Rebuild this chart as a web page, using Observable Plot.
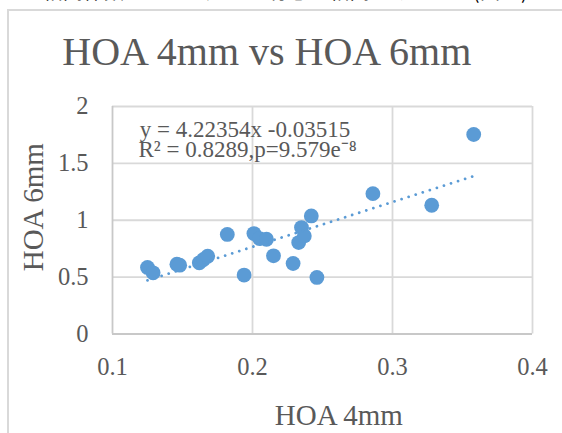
<!DOCTYPE html>
<html>
<head>
<meta charset="utf-8">
<script src="https://cdn.jsdelivr.net/npm/d3@7"></script>
<script src="https://cdn.jsdelivr.net/npm/@observablehq/plot@0.6"></script>
<style>
  body { margin: 0; background: #fff; }
  #wrap { position: relative; width: 562px; height: 433px; overflow: hidden; background: #fff; }
  #jp { position: absolute; left: 22px; top: -20px; font: 20px/22px "Noto Sans CJK JP", sans-serif; color: #000; white-space: nowrap; letter-spacing: 0.5px; }
  #frame { position: absolute; left: 7px; top: 9px; right: -2px; bottom: -2px; border-top: 2px solid #d9d9d9; border-left: 2px solid #d9d9d9; }
  #chart { position: absolute; left: 0; top: 0; }
</style>
</head>
<body>
<div id="wrap">
  <div id="jp">の相関係数は0.05を超え、有意な相関がみられた(図１)。</div>
  <div id="frame"></div>
  <div id="chart"></div>
</div>
<script>
// Data
const hoa4 = [0.125, 0.129, 0.146, 0.148, 0.162, 0.165, 0.168, 0.182, 0.194, 0.201, 0.205,
              0.210, 0.215, 0.229, 0.233, 0.235, 0.237, 0.242, 0.246, 0.286, 0.328, 0.358];
const hoa6 = [0.585, 0.538, 0.614, 0.605, 0.626, 0.655, 0.684, 0.875, 0.518, 0.883, 0.839,
              0.833, 0.687, 0.620, 0.804, 0.936, 0.862, 1.038, 0.497, 1.234, 1.132, 1.754];
const xTicks = [0.1, 0.2, 0.3, 0.4];
const xTickLabels = ["0.1", "0.2", "0.3", "0.4"];
const yTicks = [0, 0.5, 1, 1.5, 2];
const yTickLabels = ["0", "0.5", "1", "1.5", "2"];
const chartTitle = "HOA 4mm vs HOA 6mm";
const xTitle = "HOA 4mm";
const yTitle = "HOA 6mm";
const eqLine1 = "y = 4.22354x -0.03515";
const eqLine2 = "R² = 0.8289,p=9.579e⁻⁸";

const data = hoa4.map((x, i) => ({x, y: hoa6[i]}));

const textColor = "#595959";
const gridColor = "#d9d9d9";
const axisColor = "#c8c8c8";
const blue = "#5B9BD5";
const serif = "'Liberation Serif', 'Times New Roman', serif";

const chart = Plot.plot({
  width: 562,
  height: 433,
  marginLeft: 112,
  marginRight: 30,
  marginTop: 106,
  marginBottom: 99.5,
  style: { background: "transparent", fontFamily: serif, fontSize: "24px", color: textColor },
  x: { domain: [0.1, 0.4] },
  y: { domain: [0, 2] },
  marks: [
    Plot.gridX(xTicks.slice(1), { stroke: gridColor, strokeOpacity: 1, strokeWidth: 1.8 }),
    Plot.gridY(yTicks.slice(1), { stroke: gridColor, strokeOpacity: 1, strokeWidth: 1.8 }),
    Plot.ruleX([0.1], { stroke: axisColor, strokeWidth: 1.8 }),
    Plot.ruleY([0], { stroke: axisColor, strokeWidth: 1.8 }),
    Plot.axisX(xTicks, { tickSize: 0, tickPadding: 23.5, tickFormat: (d, i) => xTickLabels[i], fill: textColor, fontSize: 24.5, label: null }),
    Plot.axisY(yTicks, { tickSize: 0, tickPadding: 24, tickFormat: (d, i) => yTickLabels[i], fill: textColor, fontSize: 24.5, label: null }),
    Plot.dot(data, { x: "x", y: "y", r: 7.4, fill: blue, stroke: "none" }),
    Plot.linearRegressionY(data, { x: "x", y: "y", ci: 0, stroke: blue, strokeWidth: 2.8, strokeDasharray: "0.01,7.4", strokeLinecap: "round" }),
    Plot.text([chartTitle], { frameAnchor: "top", textAnchor: "middle", dx: -55.7, dy: -54.3, fontSize: 40, fill: textColor, lineAnchor: "middle" }),
    Plot.text([xTitle], { frameAnchor: "bottom", textAnchor: "middle", dx: 16.3, dy: 82, fontSize: 29, fill: textColor, lineAnchor: "middle" }),
    Plot.text([yTitle], { frameAnchor: "left", textAnchor: "middle", dx: -79, dy: -13, rotate: -90, fontSize: 29, fill: textColor, lineAnchor: "middle" }),
    Plot.text([eqLine1], { frameAnchor: "top-left", textAnchor: "start", dx: 27.3, dy: 23.6, fontSize: 23, fill: textColor, lineAnchor: "middle" }),
    Plot.text([eqLine2], { frameAnchor: "top-left", textAnchor: "start", dx: 26, dy: 43.6, fontSize: 23, fill: textColor, lineAnchor: "middle" })
  ]
});
document.getElementById("chart").appendChild(chart);
</script>
</body>
</html>
